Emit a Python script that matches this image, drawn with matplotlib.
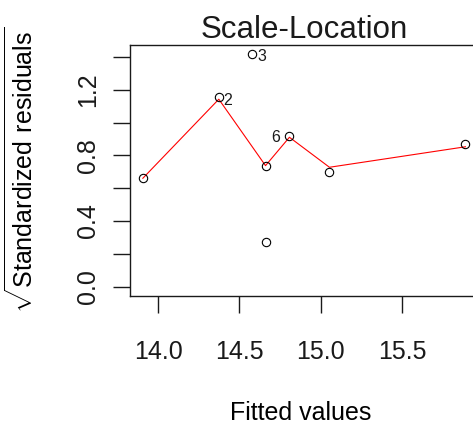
import matplotlib
matplotlib.use("Agg")
import matplotlib.pyplot as plt

plt.rcParams['font.family'] = ['Liberation Sans', 'DejaVu Sans']
plt.rcParams['mathtext.fontset'] = 'custom'
plt.rcParams['mathtext.rm'] = 'Liberation Sans'
plt.rcParams['text.color'] = '#1a1a1a'
plt.rcParams['xtick.color'] = '#1a1a1a'
plt.rcParams['ytick.color'] = '#1a1a1a'

# fitted values and sqrt(|standardized residuals|)
fitted = [13.906, 14.373, 14.578, 14.660, 14.660, 14.807, 15.053, 15.889]
sqrt_res = [0.661, 1.155, 1.419, 0.738, 0.271, 0.919, 0.698, 0.870]

# red smoother vertices
smooth_x = [13.906, 14.373, 14.660, 14.807, 15.053, 15.889]
smooth_y = [0.661, 1.143, 0.738, 0.911, 0.728, 0.853]

# labelled observations: (index into the arrays, label, side)
labelled = [(1, '2', 'right'), (2, '3', 'right'), (5, '6', 'left')]

xticks = [14.0, 14.5, 15.0, 15.5]
xticklabels = ['14.0', '14.5', '15.0', '15.5']
yticks = [0.0, 0.2, 0.4, 0.6, 0.8, 1.0, 1.2, 1.4]
yticklabels = ['0.0', '', '0.4', '', '0.8', '', '1.2', '']

fig = plt.figure(figsize=(4.73, 4.25), dpi=100)
ax = fig.add_axes([130 / 473, 129 / 425, 348.3 / 473, 251.4 / 425])

ax.plot(smooth_x, smooth_y, color='red', lw=0.8, zorder=2)
ax.plot(fitted, sqrt_res, 'o', mfc='none', mec='black', ms=6, mew=0.8, zorder=3)

for i, lab, side in labelled:
    if side == 'right':
        ax.annotate(lab, (fitted[i], sqrt_res[i]), xytext=(3.5, -2), textcoords='offset points',
                    ha='left', va='center', fontsize=11.5)
    else:
        ax.annotate(lab, (fitted[i], sqrt_res[i]), xytext=(-7, -1), textcoords='offset points',
                    ha='right', va='center', fontsize=11.5)

ax.set_xlim(13.827, 15.968)
ax.set_ylim(-0.057, 1.476)

ax.set_xticks(xticks)
ax.set_xticklabels(xticklabels)
ax.set_yticks(yticks)
ax.set_yticklabels(yticklabels, rotation=90, va='center')

ax.tick_params(axis='x', length=12, width=1, pad=20, labelsize=18)
ax.tick_params(axis='y', length=12, width=1, pad=9.4, labelsize=18)
for s in ax.spines.values():
    s.set_linewidth(1.0)
    s.set_color('#1a1a1a')

ax.set_title('Scale-Location', fontsize=22.5, pad=2)
ax.set_xlabel('Fitted values', fontsize=18)
ax.xaxis.set_label_coords(0.49, -0.467)
ax.xaxis.label.set_va('center')
ax.set_ylabel(r'$\sqrt{\mathrm{Standardized\ residuals}}$', fontsize=18)
ax.yaxis.set_label_coords(-0.264, 0.5)

fig.savefig('out.png', dpi=100)
